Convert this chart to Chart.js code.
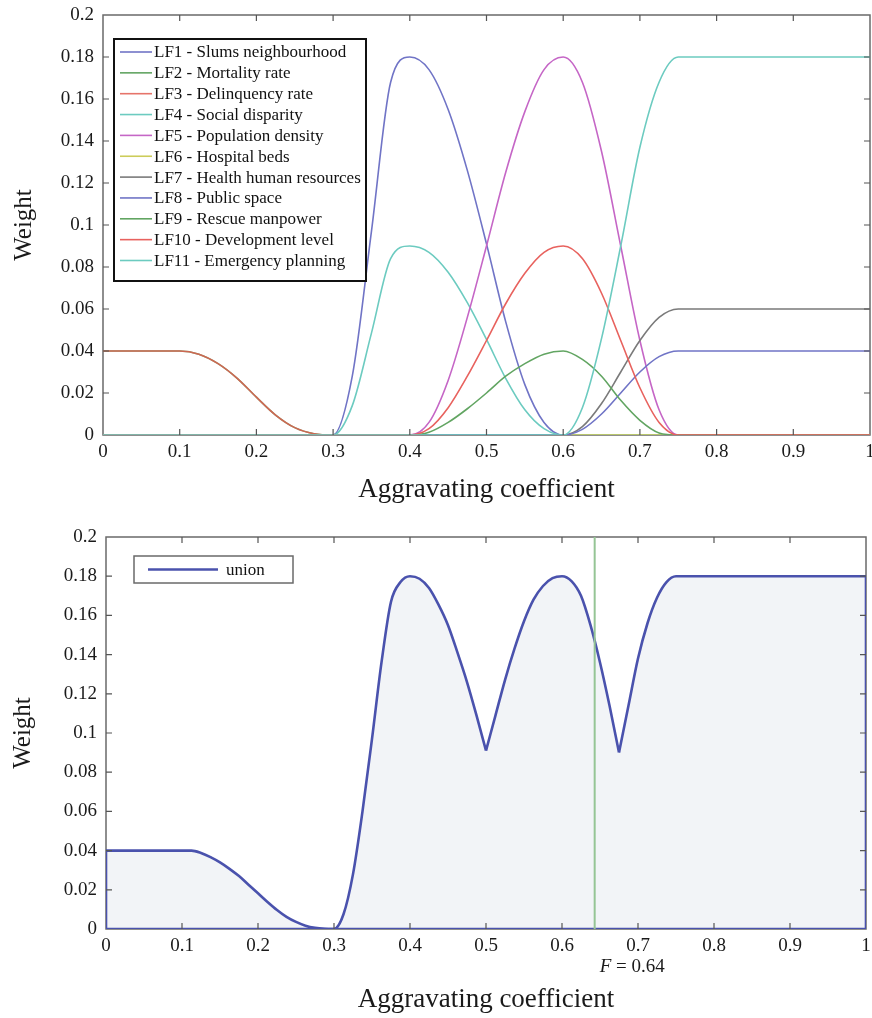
<!DOCTYPE html>
<html>
<head>
<meta charset="utf-8">
<script src="https://cdn.jsdelivr.net/npm/chart.js@4.4.1/dist/chart.umd.min.js"></script>
<style>
  html, body { margin: 0; padding: 0; background: #fff; }
  #wrap { position: relative; width: 872px; height: 1018px; }
  #weights { position: absolute; left: 0; top: 0; }
  #union { position: absolute; left: 0; top: 510px; }
</style>
</head>
<body>
<div id="wrap">
  <canvas id="weights" width="872" height="510"></canvas>
  <canvas id="union" width="872" height="508"></canvas>
</div>
<script>
// aggravating coefficient grid shared by the 11 factor curves
const coef = [0, 0.025, 0.05, 0.075, 0.1, 0.125, 0.15, 0.175, 0.2, 0.225,
  0.25, 0.275, 0.3, 0.325, 0.35, 0.375, 0.4, 0.425, 0.45, 0.475,
  0.5, 0.525, 0.55, 0.575, 0.6, 0.625, 0.65, 0.675, 0.7, 0.725,
  0.75, 0.775, 0.8, 0.825, 0.85, 0.875, 0.9, 0.925, 0.95, 0.975, 1];

const lf1 = [0,0,0,0,0,0,0,0,0,0,0,0,0,
  0.028,0.097,0.168,0.18,0.174,0.155,0.126,0.091,0.054,0.024,0.006,
  0,0,0,0,0,0,0,0,0,0,0,0,0,0,0,0,0];
const lf2 = [0.04,0.04,0.04,0.04,0.04,0.0385,0.034,0.027,0.018,0.0095,0.0035,0.0006,
  0,0,0,0,0,0,0,0,0,0,0,0,0,0,0,0,0,0,0,0,0,0,0,0,0,0,0,0,0];
const lf3 = [0.04,0.04,0.04,0.04,0.04,0.0385,0.034,0.027,0.018,0.0095,0.0035,0.0006,
  0,0,0,0,0,0,0,0,0,0,0,0,0,0,0,0,0,0,0,0,0,0,0,0,0,0,0,0,0];
const lf4 = [0,0,0,0,0,0,0,0,0,0,0,0,0,
  0.014,0.0485,0.084,0.09,0.087,0.0775,0.063,0.0455,0.027,0.012,0.003,
  0,0,0,0,0,0,0,0,0,0,0,0,0,0,0,0,0];
const lf5 = [0,0,0,0,0,0,0,0,0,0,0,0,0,0,0,0,0,
  0.006,0.026,0.056,0.09,0.125,0.154,0.174,0.18,0.168,0.135,0.09,0.045,0.012,
  0,0,0,0,0,0,0,0,0,0,0];
const lf6 = [0,0,0,0,0,0,0,0,0,0,0,0,0,0,0,0,0,0,0,0,
  0,0,0,0,0,0,0,0,0,0,0,0,0,0,0,0,0,0,0,0,0];
const lf7 = [0,0,0,0,0,0,0,0,0,0,0,0,0,0,0,0,0,0,0,0,0,0,0,0,0,
  0.004,0.015,0.03,0.045,0.056,0.06,
  0.06,0.06,0.06,0.06,0.06,0.06,0.06,0.06,0.06,0.06];
const lf8 = [0,0,0,0,0,0,0,0,0,0,0,0,0,0,0,0,0,0,0,0,0,0,0,0,0,
  0.0027,0.01,0.02,0.03,0.0373,0.04,
  0.04,0.04,0.04,0.04,0.04,0.04,0.04,0.04,0.04,0.04];
const lf9 = [0,0,0,0,0,0,0,0,0,0,0,0,0,0,0,0,0,
  0.0013,0.006,0.0125,0.02,0.028,0.034,0.0385,0.04,0.036,0.028,0.0165,0.007,0.001,
  0,0,0,0,0,0,0,0,0,0,0];
const lf10 = [0,0,0,0,0,0,0,0,0,0,0,0,0,0,0,0,0,
  0.003,0.013,0.028,0.045,0.0625,0.077,0.087,0.09,0.084,0.0675,0.045,0.0225,0.006,
  0,0,0,0,0,0,0,0,0,0,0];
const lf11 = [0,0,0,0,0,0,0,0,0,0,0,0,0,0,0,0,0,0,0,0,0,0,0,0,0,
  0.013,0.046,0.09,0.137,0.168,0.18,
  0.18,0.18,0.18,0.18,0.18,0.18,0.18,0.18,0.18,0.18];

const factorNames = [
  'LF1 - Slums neighbourhood', 'LF2 - Mortality rate', 'LF3 - Delinquency rate',
  'LF4 - Social disparity', 'LF5 - Population density', 'LF6 - Hospital beds',
  'LF7 - Health human resources', 'LF8 - Public space', 'LF9 - Rescue manpower',
  'LF10 - Development level', 'LF11 - Emergency planning'
];
const factorSeries = [lf1, lf2, lf3, lf4, lf5, lf6, lf7, lf8, lf9, lf10, lf11];
const factorColors = ['#7074c6', '#62a562', 'rgba(226,92,80,0.85)', '#6ccbc0', '#c566c6',
  '#cccc5a', '#7a7a7a', '#7074c6', '#62a562', '#e8625e', '#6ccbc0'];

// union (max) curve of the second panel
const unionX = [0, 0.1125, 0.125, 0.1375, 0.15, 0.1625, 0.175, 0.1875, 0.2,
  0.2125, 0.225, 0.2375, 0.25, 0.2625, 0.275, 0.2875, 0.3,
  0.3125, 0.325, 0.3375, 0.35, 0.3625, 0.375, 0.3875, 0.4,
  0.4125, 0.425, 0.4375, 0.45, 0.4625, 0.475, 0.4875, 0.5,
  0.5125, 0.525, 0.5375, 0.55, 0.5625, 0.575, 0.5875, 0.6,
  0.6125, 0.625, 0.6375, 0.65, 0.6625, 0.675,
  0.6875, 0.7, 0.7125, 0.725, 0.7375, 0.75, 1];
const unionY = [0.04, 0.04, 0.0388, 0.0367, 0.034, 0.0307, 0.027, 0.0226, 0.0182,
  0.0138, 0.0097, 0.0062, 0.0036, 0.0017, 0.0006, 0.0001, 0,
  0.0075, 0.028, 0.06, 0.097, 0.136, 0.167, 0.177, 0.18,
  0.1787, 0.174, 0.1655, 0.155, 0.141, 0.126, 0.109, 0.091,
  0.109, 0.127, 0.143, 0.157, 0.168, 0.175, 0.179, 0.18,
  0.1775, 0.17, 0.155, 0.136, 0.114, 0.09,
  0.114, 0.138, 0.156, 0.169, 0.177, 0.18, 0.18];
// sharp minima where the max switches from one factor to the next
const unionCusps = [0.5, 0.675];
const fValue = 0.643;
const fLabel = '0.64';

const SERIF = "'Liberation Serif', 'Times New Roman', serif";
Chart.defaults.font.family = SERIF;
Chart.defaults.color = '#1a1a1a';

const fmt = v => String(Math.round(v * 100) / 100);

// MATLAB-like box with inward ticks on all four sides
const frame = {
  id: 'frame',
  beforeDatasetsDraw(chart) {
    const { ctx, chartArea: a } = chart;
    ctx.save();
    ctx.strokeStyle = '#6a6a6a';
    ctx.lineWidth = 1.5;
    ctx.strokeRect(a.left, a.top, a.right - a.left, a.bottom - a.top);
    ctx.restore();
  },
  afterDatasetsDraw(chart) {
    const { ctx, chartArea: a, scales } = chart;
    const len = 6;
    ctx.save();
    ctx.strokeStyle = '#555';
    ctx.lineWidth = 1.2;
    ctx.beginPath();
    scales.x.ticks.forEach(t => {
      const px = scales.x.getPixelForValue(t.value);
      if (px <= a.left + 1 || px >= a.right - 1) return;
      ctx.moveTo(px, a.bottom); ctx.lineTo(px, a.bottom - len);
      ctx.moveTo(px, a.top); ctx.lineTo(px, a.top + len);
    });
    scales.y.ticks.forEach(t => {
      const py = scales.y.getPixelForValue(t.value);
      if (py <= a.top + 1 || py >= a.bottom - 1) return;
      ctx.moveTo(a.left, py); ctx.lineTo(a.left + len, py);
      ctx.moveTo(a.right, py); ctx.lineTo(a.right - len, py);
    });
    ctx.stroke();
    ctx.restore();
  }
};

// legend box drawn inside the plot, like the original figure
const boxLegend = {
  id: 'boxLegend',
  afterDraw(chart, args, opts) {
    const { ctx, chartArea: a } = chart;
    const x0 = a.left + opts.dx, y0 = a.top + opts.dy;
    const items = chart.data.datasets.filter(d => d.label && !d.noLegend);
    ctx.save();
    ctx.fillStyle = '#fff';
    ctx.fillRect(x0, y0, opts.w, opts.h);
    ctx.strokeStyle = opts.border;
    ctx.lineWidth = opts.borderWidth;
    ctx.strokeRect(x0, y0, opts.w, opts.h);
    ctx.font = opts.fontSize + 'px ' + SERIF;
    ctx.textBaseline = 'middle';
    items.forEach((d, i) => {
      const y = y0 + opts.first + i * opts.row;
      ctx.strokeStyle = d.borderColor;
      ctx.lineWidth = d.borderWidth;
      ctx.beginPath();
      ctx.moveTo(x0 + opts.lineFrom, y);
      ctx.lineTo(x0 + opts.lineTo, y);
      ctx.stroke();
      ctx.fillStyle = '#111';
      ctx.fillText(d.label, x0 + opts.textAt, y + 1);
    });
    ctx.restore();
  }
};

const fNote = {
  id: 'fNote',
  afterDraw(chart) {
    const { ctx, chartArea: a, scales } = chart;
    const px = scales.x.getPixelForValue(fValue) + 5;
    const py = a.bottom + 38;
    ctx.save();
    ctx.fillStyle = '#1a1a1a';
    ctx.textBaseline = 'middle';
    ctx.font = 'italic 19px ' + SERIF;
    ctx.fillText('F', px, py);
    const w = ctx.measureText('F').width;
    ctx.font = '19px ' + SERIF;
    ctx.fillText(' = ' + fLabel, px + w, py);
    ctx.restore();
  }
};

function axes(yTitlePad, xTitlePad, yWidth, xHeight) {
  return {
    x: {
      type: 'linear', min: 0, max: 1,
      grid: { display: false, drawTicks: false },
      border: { display: false },
      ticks: { stepSize: 0.1, padding: 6, autoSkip: false, maxRotation: 0,
        font: { size: 19 }, color: '#1a1a1a', callback: fmt },
      title: { display: true, text: 'Aggravating coefficient', color: '#1a1a1a',
        font: { size: 27 }, padding: { top: 0, bottom: xTitlePad } },
      afterFit: s => { s.height = xHeight; s.paddingLeft = 0; s.paddingRight = 0; }
    },
    y: {
      min: 0, max: 0.2,
      grid: { display: false, drawTicks: false },
      border: { display: false },
      ticks: { stepSize: 0.02, padding: 9, autoSkip: false,
        font: { size: 19 }, color: '#1a1a1a', callback: fmt },
      title: { display: true, text: 'Weight', color: '#1a1a1a',
        font: { size: 25 }, padding: { top: yTitlePad, bottom: 0 } },
      afterFit: s => { s.width = yWidth; s.paddingTop = 0; s.paddingBottom = 0; }
    }
  };
}

new Chart(document.getElementById('weights'), {
  type: 'line',
  data: {
    datasets: factorSeries.map((vals, i) => ({
      label: factorNames[i],
      data: vals.map((v, j) => ({ x: coef[j], y: v })),
      borderColor: factorColors[i],
      borderWidth: 1.6,
      pointRadius: 0,
      fill: false,
      cubicInterpolationMode: 'monotone',
      order: factorSeries.length - i
    }))
  },
  options: {
    responsive: false,
    animation: false,
    layout: { padding: { left: 0, right: 2, top: 15, bottom: 0 } },
    scales: axes(9, 4, 103, 75),
    plugins: {
      legend: { display: false },
      tooltip: { enabled: false },
      boxLegend: { dx: 11, dy: 24, w: 252, h: 242, border: '#111', borderWidth: 2,
        fontSize: 17, first: 13, row: 20.85, lineFrom: 6, lineTo: 38, textAt: 40 }
    }
  },
  plugins: [frame, boxLegend]
});

// split the union outline at its cusps so each arc is smoothed on its own
const unionColor = '#4a52ad';
const unionPts = unionX.map((x, i) => ({ x, y: unionY[i] }));
const cutIdx = [0, ...unionCusps.map(c => unionX.indexOf(c)), unionX.length - 1];
const unionArcs = cutIdx.slice(1).map((end, k) => ({
  label: k === 0 ? 'union' : '',
  data: unionPts.slice(cutIdx[k], end + 1),
  borderColor: unionColor,
  backgroundColor: '#f2f4f7',
  borderWidth: 2.6,
  pointRadius: 0,
  cubicInterpolationMode: 'monotone',
  fill: 'origin',
  order: 2
}));
const last = unionPts[unionPts.length - 1];
const unionEdges = {
  label: '', noLegend: true,
  data: [{ x: last.x, y: last.y }, { x: last.x, y: 0 }, { x: unionPts[0].x, y: 0 }, unionPts[0]],
  borderColor: unionColor,
  borderWidth: 2.6,
  pointRadius: 0,
  tension: 0,
  fill: false,
  order: 1
};

new Chart(document.getElementById('union'), {
  type: 'line',
  data: {
    datasets: [
      ...unionArcs,
      unionEdges,
      {
        label: 'F',
        noLegend: true,
        data: [{ x: fValue, y: 0 }, { x: fValue, y: 0.2 }],
        borderColor: '#95c595',
        borderWidth: 2,
        pointRadius: 0,
        fill: false,
        order: 0
      }
    ]
  },
  options: {
    responsive: false,
    animation: false,
    layout: { padding: { left: 0, right: 6, top: 27, bottom: 0 } },
    scales: axes(8, 2, 106, 89),
    plugins: {
      legend: { display: false },
      tooltip: { enabled: false },
      boxLegend: { dx: 28, dy: 19, w: 159, h: 27, border: '#6a6a6a', borderWidth: 1.5,
        fontSize: 17, first: 13.5, row: 20, lineFrom: 14, lineTo: 84, textAt: 92 }
    }
  },
  plugins: [frame, boxLegend, fNote]
});
</script>
</body>
</html>
